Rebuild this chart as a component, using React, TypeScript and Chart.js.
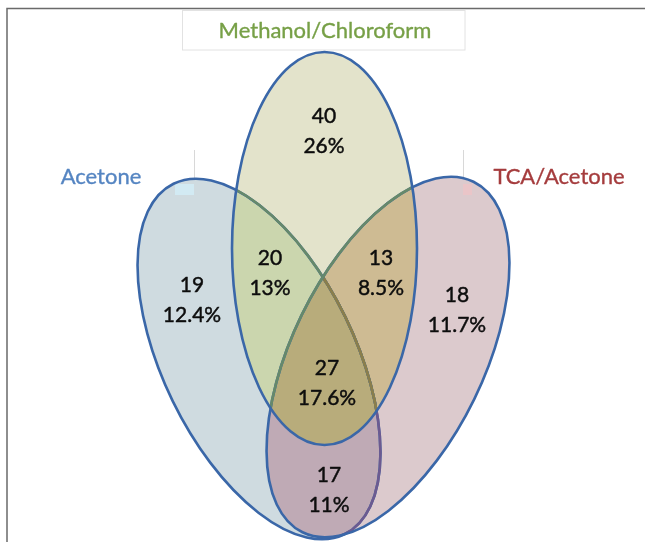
import React, { useEffect, useRef } from 'react';
import { Chart, registerables } from 'chart.js';

Chart.register(...registerables);

// ---- Set (ellipse) data, in chart units (x: 0..645, y: 0..542 top-down) ----
const setNames = ['Acetone', 'TCA/Acetone', 'Methanol/Chloroform'];
const setCenterX = [259, 388, 324.5];
const setCenterY = [359, 357, 248.5];
const setSemiMajor = [195, 195, 196.5];
const setSemiMinor = [96, 96, 92.5];
const setTiltDeg = [-26, 26, 0];
const setLabelX = [101, 559, 325];
const setLabelY = [177, 177, 31];
const setLabelColors = ['#5585c2', '#a53c3d', '#77a047'];

// ---- Region data ----
const regionNames = ['M', 'A', 'T', 'A∩M', 'T∩M', 'A∩T', 'A∩T∩M'];
const regionCounts = [40, 19, 18, 20, 13, 17, 27];
const regionPercents = ['26%', '12.4%', '11.7%', '13%', '8.5%', '11%', '17.6%'];
const regionX = [324, 192, 457, 270, 381, 329, 327];
const regionY = [131, 300, 310, 273, 273, 490, 383];

// ---- Styles ----
const FILL_A = '#cfdbe0';
const FILL_T = '#dccacd';
const FILL_M = '#e3e3cb';
const FILL_AT = '#bfaab5';
const FILL_AM = '#cbd6ae';
const FILL_TM = '#cebb93';
const FILL_ATM = '#b8ac7b';
const LINE_BLUE = '#3a67a8';
const LINE_GREEN = '#66896a';
const LINE_OLIVE = '#8a7e4c';
const LINE_PURPLE = '#6c5a90';

const vennPlugin = {
  id: 'venn',
  beforeDatasetsDraw(chart: any) {
    const ctx: CanvasRenderingContext2D = chart.ctx;
    const xs = chart.scales.x;
    const ys = chart.scales.y;
    const px = (v: number) => xs.getPixelForValue(v);
    const py = (v: number) => ys.getPixelForValue(v);

    const path = (i: number) => {
      const cx = px(setCenterX[i]);
      const cy = py(setCenterY[i]);
      const rx = Math.abs(px(setCenterX[i] + setSemiMinor[i]) - cx);
      const ry = Math.abs(py(setCenterY[i] + setSemiMajor[i]) - cy);
      ctx.beginPath();
      ctx.ellipse(cx, cy, rx, ry, (setTiltDeg[i] * Math.PI) / 180, 0, Math.PI * 2);
    };
    const fillIn = (i: number, color: string, clips: number[]) => {
      ctx.save();
      clips.forEach((c) => {
        path(c);
        ctx.clip();
      });
      path(i);
      ctx.fillStyle = color;
      ctx.fill();
      ctx.restore();
    };
    const strokeIn = (i: number, color: string, clips: number[]) => {
      ctx.save();
      clips.forEach((c) => {
        path(c);
        ctx.clip();
      });
      path(i);
      ctx.strokeStyle = color;
      ctx.lineWidth = 2.6;
      ctx.stroke();
      ctx.restore();
    };

    ctx.save();
    // frame
    ctx.strokeStyle = '#6a6a6a';
    ctx.lineWidth = 1.5;
    ctx.beginPath();
    ctx.moveTo(px(7), py(542));
    ctx.lineTo(px(7), py(8.5));
    ctx.lineTo(px(645), py(8.5));
    ctx.stroke();

    // title box for Methanol/Chloroform
    ctx.fillStyle = '#ffffff';
    ctx.strokeStyle = '#e2e2e2';
    ctx.lineWidth = 1;
    ctx.fillRect(px(182.5), py(10.5), px(465) - px(182.5), py(50) - py(10.5));
    ctx.strokeRect(px(182.5), py(10.5), px(465) - px(182.5), py(50) - py(10.5));

    // faint textbox edges
    ctx.strokeStyle = '#d8d8d8';
    ctx.beginPath();
    ctx.moveTo(px(194.5), py(150));
    ctx.lineTo(px(194.5), py(186));
    ctx.moveTo(px(463.5), py(150));
    ctx.lineTo(px(463.5), py(184));
    ctx.stroke();

    // fills: A=0, T=1, M=2
    fillIn(0, FILL_A, []);
    fillIn(1, FILL_T, []);
    fillIn(1, FILL_AT, [0]);
    fillIn(2, FILL_M, []);
    fillIn(2, FILL_AM, [0]);
    fillIn(2, FILL_TM, [1]);
    fillIn(2, FILL_ATM, [0, 1]);

    // small textbox fill artefacts
    ctx.save();
    path(0);
    ctx.clip();
    ctx.fillStyle = '#d2eaf3';
    ctx.fillRect(px(175), py(184), px(194) - px(175), py(195) - py(184));
    ctx.restore();
    ctx.save();
    path(1);
    ctx.clip();
    ctx.fillStyle = '#eac5c8';
    ctx.fillRect(px(463), py(184), px(472) - px(463), py(195) - py(184));
    ctx.restore();

    // outlines
    strokeIn(0, LINE_BLUE, []);
    strokeIn(0, LINE_PURPLE, [1]);
    strokeIn(0, LINE_GREEN, [2]);
    strokeIn(0, LINE_OLIVE, [1, 2]);
    strokeIn(1, LINE_BLUE, []);
    strokeIn(1, LINE_GREEN, [2]);
    strokeIn(2, LINE_BLUE, []);
    ctx.restore();
  },
  afterDatasetsDraw(chart: any) {
    const ctx: CanvasRenderingContext2D = chart.ctx;
    ctx.save();
    ctx.textAlign = 'center';
    ctx.textBaseline = 'middle';
    ctx.lineJoin = 'round';

    const regionMeta = chart.getDatasetMeta(0);
    ctx.font = '21px Lato';
    ctx.fillStyle = '#0d0d0d';
    ctx.strokeStyle = '#0d0d0d';
    ctx.lineWidth = 0.45;
    regionMeta.data.forEach((pt: any, i: number) => {
      ctx.fillText(String(regionCounts[i]), pt.x, pt.y - 15);
      ctx.strokeText(String(regionCounts[i]), pt.x, pt.y - 15);
      ctx.fillText(regionPercents[i], pt.x, pt.y + 15);
      ctx.strokeText(regionPercents[i], pt.x, pt.y + 15);
    });

    const setMeta = chart.getDatasetMeta(1);
    ctx.font = '22px Lato';
    ctx.lineWidth = 0.35;
    setMeta.data.forEach((pt: any, i: number) => {
      ctx.fillStyle = setLabelColors[i];
      ctx.strokeStyle = setLabelColors[i];
      ctx.fillText(setNames[i], pt.x, pt.y);
      ctx.strokeText(setNames[i], pt.x, pt.y);
    });
    ctx.restore();
  },
};

export default function App() {
  const canvasRef = useRef<HTMLCanvasElement | null>(null);

  useEffect(() => {
    if (!canvasRef.current) return;
    const chart = new Chart(canvasRef.current, {
      type: 'scatter',
      data: {
        datasets: [
          {
            label: 'Regions',
            data: regionX.map((x, i) => ({ x, y: regionY[i], name: regionNames[i] })) as any,
            pointRadius: 0,
          },
          {
            label: 'Sets',
            data: setLabelX.map((x, i) => ({ x, y: setLabelY[i] })),
            pointRadius: 0,
          },
        ],
      },
      options: {
        animation: false,
        responsive: false,
        events: [],
        layout: { padding: 0 },
        plugins: {
          legend: { display: false },
          tooltip: { enabled: false },
        },
        scales: {
          x: { type: 'linear', min: 0, max: 645, display: false },
          y: { type: 'linear', min: 0, max: 542, reverse: true, display: false },
        },
      },
      plugins: [vennPlugin],
    });
    return () => chart.destroy();
  }, []);

  return (
    <div style={{ position: 'absolute', left: 0, top: 0, width: 645, height: 542, background: '#fff' }}>
      <canvas ref={canvasRef} width={645} height={542} />
    </div>
  );
}
